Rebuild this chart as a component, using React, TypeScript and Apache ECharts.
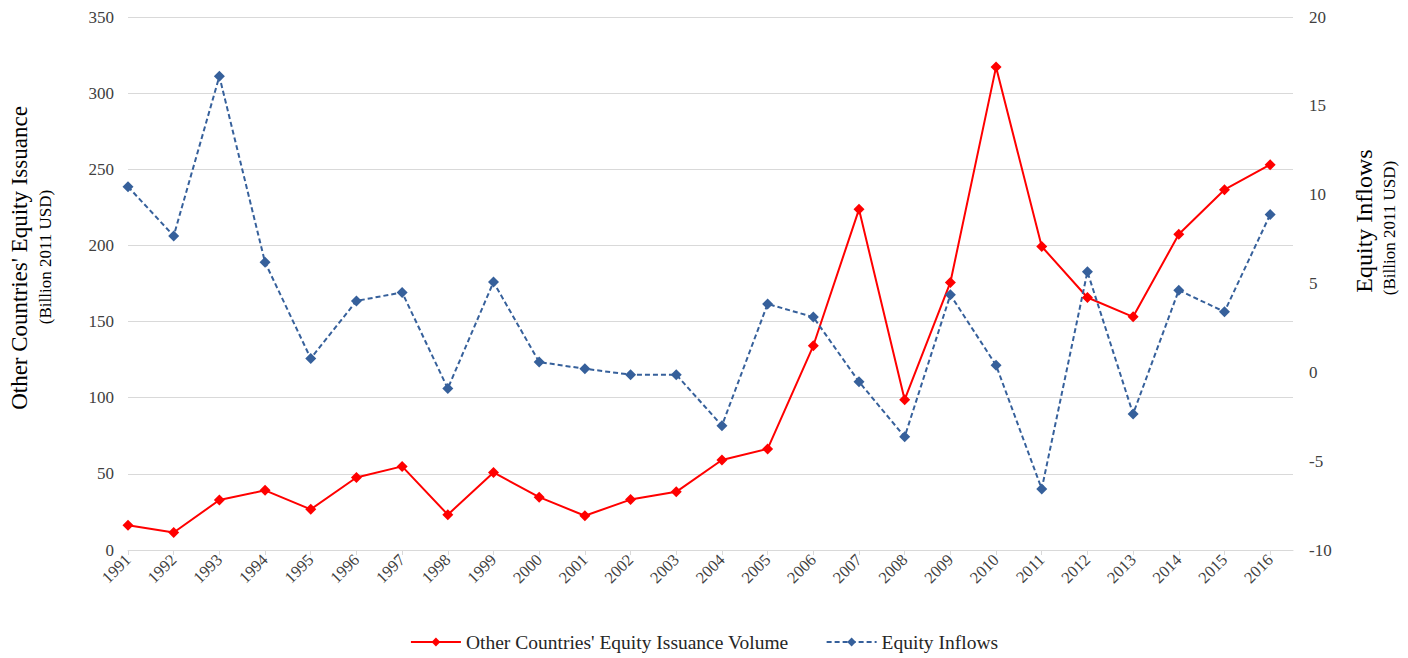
import React, { useEffect, useRef } from "react";
import * as echarts from "echarts";

const years = [1991, 1992, 1993, 1994, 1995, 1996, 1997, 1998, 1999, 2000, 2001, 2002, 2003, 2004, 2005, 2006, 2007, 2008, 2009, 2010, 2011, 2012, 2013, 2014, 2015, 2016];
const issuanceVolume = [16.2, 11.5, 32.8, 39.2, 26.7, 47.6, 54.9, 23.2, 50.9, 34.7, 22.5, 33.1, 38.2, 59.1, 66.4, 134.1, 223.7, 98.7, 175.7, 317.1, 199.3, 165.8, 153.1, 207.3, 236.6, 253.0];
const equityInflows = [10.45, 7.68, 16.66, 6.19, 0.78, 4.02, 4.5, -0.91, 5.08, 0.58, 0.2, -0.13, -0.13, -3.0, 3.85, 3.11, -0.53, -3.63, 4.36, 0.4, -6.56, 5.66, -2.34, 4.62, 3.41, 8.88];

const seriesNames = ["Other Countries' Equity Issuance Volume", "Equity Inflows"];
const leftAxisTitle = "Other Countries' Equity Issuance";
const rightAxisTitle = "Equity Inflows";
const unitTitle = "(Billion 2011 USD)";

const FONT = "Liberation Serif";
const RED = "#FF0000";
const BLUE = "#36609B";
const LABEL = "#404040";

export default function App() {
  const ref = useRef<HTMLDivElement>(null);
  useEffect(() => {
    document.body.style.margin = "0";
    const chart = echarts.init(ref.current!, null, { renderer: "svg" });
    chart.setOption({
      animation: false,
      backgroundColor: "#ffffff",
      textStyle: { fontFamily: FONT },
      grid: { left: 128, right: 115, top: 17, bottom: 108, containLabel: false },
      legend: {
        bottom: 1,
        left: "center",
        itemWidth: 50,
        itemHeight: 11,
        itemGap: 37,
        textStyle: { fontFamily: FONT, fontSize: 19.5, color: "#262626" },
        data: seriesNames,
      },
      xAxis: {
        type: "value",
        min: years[0],
        max: 2016.5,
        interval: 1,
        axisLine: { show: true, lineStyle: { color: "#D9D9D9", width: 1 } },
        axisTick: { show: true, length: 5, lineStyle: { color: "#D9D9D9" }, customValues: years },
        splitLine: { show: false },
        axisLabel: {
          rotate: 45,
          fontFamily: FONT,
          fontSize: 16.5,
          color: LABEL,
          margin: 7,
          customValues: years,
          formatter: (v: number) => String(v),
        },
      },
      yAxis: [
        {
          type: "value",
          min: 0,
          max: 350,
          interval: 50,
          position: "left",
          axisLine: { show: false },
          axisTick: { show: false },
          splitLine: { show: true, lineStyle: { color: "#D9D9D9", width: 1 } },
          axisLabel: { fontFamily: FONT, fontSize: 17, color: LABEL, margin: 14 },
        },
        {
          type: "value",
          min: -10,
          max: 20,
          interval: 5,
          position: "right",
          axisLine: { show: false },
          axisTick: { show: false },
          splitLine: { show: false },
          axisLabel: { fontFamily: FONT, fontSize: 17, color: LABEL, margin: 16 },
        },
      ],
      series: [
        {
          name: seriesNames[0],
          type: "line",
          yAxisIndex: 0,
          data: years.map((y, i) => [y, issuanceVolume[i]]),
          symbol: "diamond",
          symbolSize: 11,
          itemStyle: { color: RED },
          lineStyle: { color: RED, width: 2 },
        },
        {
          name: seriesNames[1],
          type: "line",
          yAxisIndex: 1,
          data: years.map((y, i) => [y, equityInflows[i]]),
          symbol: "diamond",
          symbolSize: 11,
          itemStyle: { color: BLUE },
          lineStyle: { color: BLUE, width: 2, type: [5, 3] },
        },
      ],
      graphic: [
        {
          type: "text",
          x: 19,
          y: 258,
          rotation: Math.PI / 2,
          style: { text: leftAxisTitle, font: `23px ${FONT}`, fill: "#000", textAlign: "center", textVerticalAlign: "middle" },
        },
        {
          type: "text",
          x: 45,
          y: 257,
          rotation: Math.PI / 2,
          style: { text: unitTitle, font: `17px ${FONT}`, fill: "#000", textAlign: "center", textVerticalAlign: "middle" },
        },
        {
          type: "text",
          x: 1364,
          y: 221,
          rotation: Math.PI / 2,
          style: { text: rightAxisTitle, font: `24px ${FONT}`, fill: "#000", textAlign: "center", textVerticalAlign: "middle" },
        },
        {
          type: "text",
          x: 1389,
          y: 228,
          rotation: Math.PI / 2,
          style: { text: unitTitle, font: `17px ${FONT}`, fill: "#000", textAlign: "center", textVerticalAlign: "middle" },
        },
      ],
    });
    return () => chart.dispose();
  }, []);
  return <div ref={ref} style={{ width: 1408, height: 658 }} />;
}
